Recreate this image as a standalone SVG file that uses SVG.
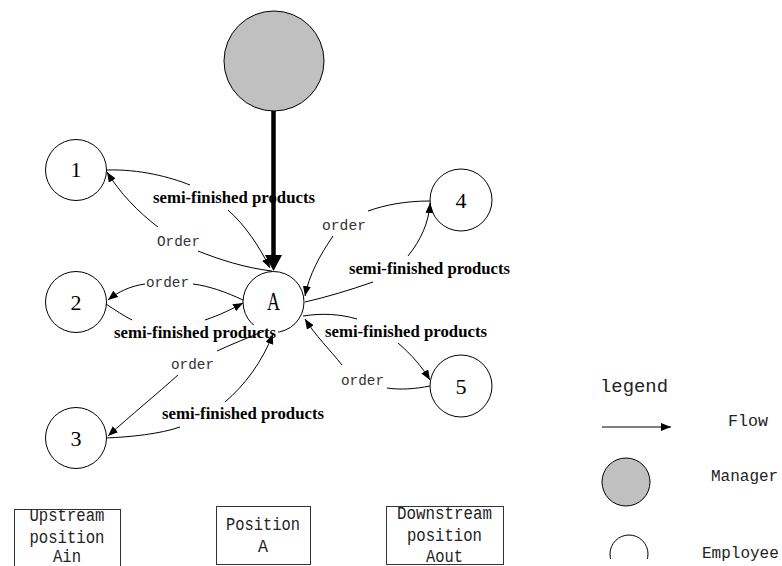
<svg xmlns="http://www.w3.org/2000/svg" width="782" height="566" viewBox="0 0 782 566">
<defs>
<style>
.node{fill:#fff;stroke:#000;stroke-width:1}
.mgr{fill:#c0c0c0;stroke:#000;stroke-width:1}
.num{font-family:"Liberation Serif",serif;font-size:22px;text-anchor:middle;fill:#000}
.lbl{font-family:"Liberation Serif",serif;font-weight:bold;font-size:16.5px;fill:#000}
.ord{font-family:"Liberation Mono",monospace;font-size:14px;fill:#333}
.mono{font-family:"Liberation Mono",monospace;font-size:18px;fill:#222;text-anchor:middle}
.leg{font-family:"Liberation Mono",monospace;fill:#222}
.c{fill:none;stroke:#000;stroke-width:1}
.ca{fill:none;stroke:#000;stroke-width:1;marker-end:url(#ah)}
.box{fill:#fff;stroke:#333;stroke-width:1}
</style>
<marker id="ah" markerUnits="userSpaceOnUse" markerWidth="11" markerHeight="9" refX="10" refY="4" orient="auto">
<path d="M0,0 L10,4 L0,8 z" fill="#000"/>
</marker>
<clipPath id="clipEmp"><rect x="0" y="0" width="782" height="559"/></clipPath>
</defs>
<rect width="782" height="566" fill="#fff"/>

<g id="manager">
<circle class="mgr" cx="274" cy="61" r="50"/>
</g>
<g id="node-A">
<circle class="node" cx="273.5" cy="302" r="30.5"/>
<text font-family="Liberation Serif, serif" font-size="20" text-anchor="middle" fill="#000" textLength="13" lengthAdjust="spacingAndGlyphs" transform="translate(273.5,310) scale(1,1.3)" x="0" y="0">A</text>
</g>
<g id="node-1">
<circle class="node" cx="76" cy="170" r="30.5"/>
<text class="num" x="76" y="177">1</text>
</g>
<g id="node-2">
<circle class="node" cx="76" cy="302" r="30.5"/>
<text class="num" x="76" y="310">2</text>
</g>
<g id="node-3">
<circle class="node" cx="76" cy="438" r="30.5"/>
<text class="num" x="76" y="446">3</text>
</g>
<g id="node-4">
<circle class="node" cx="461" cy="200" r="31"/>
<text class="num" x="461" y="208">4</text>
</g>
<g id="node-5">
<circle class="node" cx="461" cy="386" r="31"/>
<text class="num" x="461" y="394">5</text>
</g>

<g id="labels">
<text class="lbl" x="153" y="203" textLength="162" lengthAdjust="spacingAndGlyphs">semi-finished products</text>
<text class="ord" x="157" y="246" textLength="43" lengthAdjust="spacingAndGlyphs">Order</text>
<text class="ord" x="146" y="287" textLength="43" lengthAdjust="spacingAndGlyphs">order</text>
<rect x="113" y="325" width="165" height="16" fill="#fff"/>
<text class="lbl" x="114" y="338" textLength="162" lengthAdjust="spacingAndGlyphs">semi-finished products</text>
<text class="ord" x="171" y="369" textLength="43" lengthAdjust="spacingAndGlyphs">order</text>
<text class="lbl" x="162" y="419" textLength="162" lengthAdjust="spacingAndGlyphs">semi-finished products</text>
<text class="ord" x="322" y="230" textLength="44" lengthAdjust="spacingAndGlyphs">order</text>
<text class="lbl" x="349" y="274" textLength="161" lengthAdjust="spacingAndGlyphs">semi-finished products</text>
<text class="lbl" x="325" y="337" textLength="162" lengthAdjust="spacingAndGlyphs">semi-finished products</text>
<text class="ord" x="341" y="385" textLength="43" lengthAdjust="spacingAndGlyphs">order</text>
</g>

<g id="connectors">
<path class="c" d="M106,170 C140,169 170,177 190,185"/>
<path class="ca" d="M228,210 C245,225 259,246 270,268"/>
<path class="c" d="M272,271 C245,268 218,259 198,251"/>
<path class="ca" d="M158,227 C138,212 120,193 107,172"/>
<path class="c" d="M243,300 C226,292 209,286 193,284"/>
<path class="ca" d="M145,284 C130,286 118,292 108,300"/>
<path class="c" d="M106,304 C115,310 124,316 132,320"/>
<path class="ca" d="M205,320 C220,315 232,309 243,303"/>
<path class="c" d="M264,331 C250,337 232,344 217,351"/>
<path class="ca" d="M178,375 C158,393 130,416 108,436"/>
<path class="c" d="M106,438 C130,437 160,434 180,427"/>
<path class="ca" d="M225,402 C245,385 262,362 273,334"/>
<path class="c" d="M430,201 C405,201 385,205 368,211"/>
<path class="ca" d="M333,236 C320,255 309,275 305,296"/>
<path class="c" d="M305,302 C327,297 350,290 373,282"/>
<path class="ca" d="M408,256 C421,240 429,222 430,203"/>
<path class="c" d="M303,316 C322,313 340,314 357,319"/>
<path class="ca" d="M398,343 C412,355 422,367 430,380"/>
<path class="c" d="M430,386 C415,389 400,390 387,388"/>
<path class="ca" d="M342,365 C330,350 315,335 305,319"/>
<line x1="273.5" y1="111" x2="273.5" y2="257" stroke="#000" stroke-width="4.5"/>
<polygon points="265,255 282,255 273.5,271" fill="#000"/>
</g>

<g id="box-upstream">
<rect class="box" x="14.5" y="509.5" width="106" height="70"/>
<text class="mono" x="67" y="521" textLength="75" lengthAdjust="spacingAndGlyphs">Upstream</text>
<text class="mono" x="67" y="543" textLength="75" lengthAdjust="spacingAndGlyphs">position</text>
<text class="mono" x="67" y="562" textLength="28" lengthAdjust="spacingAndGlyphs">Ain</text>
</g>
<g id="box-position">
<rect class="box" x="216.5" y="506.5" width="94" height="58"/>
<text class="mono" x="263" y="530" textLength="74" lengthAdjust="spacingAndGlyphs">Position</text>
<text class="mono" x="263" y="552" textLength="10" lengthAdjust="spacingAndGlyphs">A</text>
</g>
<g id="box-downstream">
<rect class="box" x="386.5" y="506.5" width="117" height="58"/>
<text class="mono" x="444.5" y="519" textLength="95" lengthAdjust="spacingAndGlyphs">Downstream</text>
<text class="mono" x="444.5" y="541" textLength="75" lengthAdjust="spacingAndGlyphs">position</text>
<text class="mono" x="444.5" y="562" textLength="37" lengthAdjust="spacingAndGlyphs">Aout</text>
</g>

<g id="legend">
<text class="leg" x="600" y="392" style="font-size:19px" textLength="68" lengthAdjust="spacingAndGlyphs">legend</text>
<path class="ca" d="M602,427 L671,427"/>
<text class="leg" x="728" y="426" style="font-size:17px" textLength="40" lengthAdjust="spacingAndGlyphs">Flow</text>
<circle class="mgr" cx="626" cy="482" r="24"/>
<text class="leg" x="711" y="481" style="font-size:16px">Manager</text>
<circle class="node" cx="629" cy="554" r="19" clip-path="url(#clipEmp)"/>
<text class="leg" x="702" y="558" style="font-size:16px">Employee</text>
</g>
</svg>
